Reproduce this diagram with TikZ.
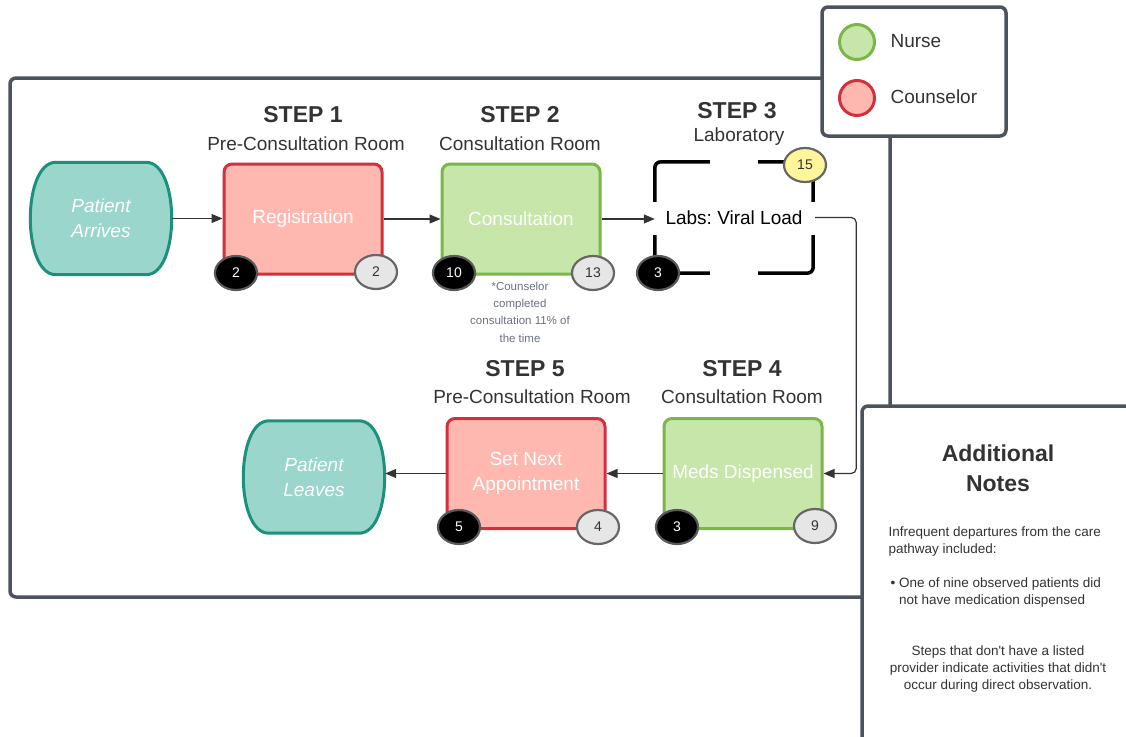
\documentclass[tikz,border=0pt]{standalone}
\usepackage{fontspec}
\setmainfont{Liberation Sans}
\usetikzlibrary{arrows.meta,shapes.geometric,calc}
\frenchspacing

\definecolor{framecol}{HTML}{4C535C}
\definecolor{termfill}{HTML}{9AD6CB}
\definecolor{termline}{HTML}{1B917C}
\definecolor{redfill}{HTML}{FFB8B0}
\definecolor{redline}{HTML}{D1303C}
\definecolor{greenfill}{HTML}{C6E7A9}
\definecolor{greenline}{HTML}{7AB648}
\definecolor{badgegray}{HTML}{E6E6E6}
\definecolor{badgeyellow}{HTML}{FFF59A}
\definecolor{textdark}{HTML}{333333}
\definecolor{notegray}{HTML}{6B7080}

\tikzset{
  frameline/.style={draw=framecol, line width=3.5pt, rounded corners=6pt},
  terminal/.style={minimum width=142pt, minimum height=112pt, inner sep=0pt,
    text=white, font=\fontsize{19}{25}\selectfont\itshape, align=center},
  termoutline/.style={draw=termline, fill=termfill, line width=3pt},
  stepbox/.style={draw, rounded corners=8pt, line width=3pt,
    minimum width=158pt, minimum height=110pt, inner sep=0pt,
    text=white, font=\fontsize{19}{25}\selectfont, align=center},
  nursebox/.style={stepbox, draw=greenline, fill=greenfill},
  counselbox/.style={stepbox, draw=redline, fill=redfill},
  badge/.style={ellipse, line width=2.2pt, minimum width=42pt,
    minimum height=34pt, inner sep=0pt, font=\fontsize{14}{14}\selectfont},
  countdark/.style={badge, fill=black, draw=black!65, text=white},
  countgray/.style={badge, fill=badgegray, draw=black!60, text=textdark},
  countyellow/.style={badge, fill=badgeyellow, draw=black!60, text=textdark},
  steptitle/.style={font=\bfseries\fontsize{23}{23}\selectfont, text=textdark},
  roomtitle/.style={font=\fontsize{19}{19}\selectfont, text=textdark},
  flow/.style={draw=textdark, line width=1.2pt, -{Triangle[length=11pt,width=9pt]}},
  bracket/.style={draw=black, line width=3.5pt, rounded corners=6pt},
  legenddot/.style={circle, line width=3pt, minimum size=35pt, inner sep=0pt},
  legendtext/.style={anchor=west, font=\fontsize{19}{19}\selectfont, text=textdark},
  notetext/.style={font=\fontsize{13.5}{17}\selectfont, text=textdark},
}

% start/end shape: flat top and bottom, bulging sides
\newcommand{\terminalshape}[1]{%
  \path[termoutline]
    ($(#1.north west)+(26,0)$) -- ($(#1.north east)+(-26,0)$)
    .. controls ($(#1.north east)+(8,0)$) and ($(#1.south east)+(8,0)$) ..
    ($(#1.south east)+(-26,0)$) -- ($(#1.south west)+(26,0)$)
    .. controls ($(#1.south west)+(-8,0)$) and ($(#1.north west)+(-8,0)$) ..
    cycle;}

\begin{document}
\begin{tikzpicture}[x=1pt,y=-1pt]
\useasboundingbox (0,0) rectangle (1126,736);

% outer frame of the care pathway
\draw[frameline] (10,78) rectangle (890,597);

% legend
\draw[frameline, fill=white] (822,7) rectangle (1006,136);
\node[legenddot, draw=greenline, fill=greenfill] (nursedot) at (857,42) {};
\node[legendtext] (nurselbl) at (887,41) {Nurse};
\node[legenddot, draw=redline, fill=redfill] (counseldot) at (857,98) {};
\node[legendtext] (counsellbl) at (887,97) {Counselor};

% top row
\path (101,218.5) node[terminal] (arrive) {};
\terminalshape{arrive}
\node[terminal] at (arrive) {Patient\\Arrives};
\node[counselbox] (reg) at (303,219) {Registration};
\node[nursebox] (cons) at (521,219) {Consultation};
\node[minimum width=158pt, minimum height=111pt, inner sep=0pt,
      font=\fontsize{19}{19}\selectfont] (labs) at (734,217.5) {Labs: Viral Load};

% corner brackets of the laboratory step
\draw[bracket] (labs.north west) ++(0,40) |- ++(55,-40);
\draw[bracket] (labs.north east) ++(-55,0) -| ++(55,40);
\draw[bracket] (labs.south west) ++(0,-38) |- ++(55,38);
\draw[bracket] (labs.south east) ++(-55,0) -| ++(55,-38);

% bottom row
\node[nursebox] (meds) at (743,473.5) {Meds Dispensed};
\node[counselbox] (setnext) at (526,473.5) {Set Next\\Appointment};
\path (314,477) node[terminal] (leaves) {};
\terminalshape{leaves}
\node[terminal] at (leaves) {Patient\\Leaves};

% step headings
\node[steptitle] (s1) at (303,115) {STEP 1};
\node[roomtitle] (r1) at (306,144) {Pre-Consultation Room};
\node[steptitle] (s2) at (520,115) {STEP 2};
\node[roomtitle] (r2) at (520,144) {Consultation Room};
\node[steptitle] (s3) at (737,111) {STEP 3};
\node[roomtitle] (r3) at (739,137) {Laboratory};
\node[steptitle] (s5) at (525,369) {STEP 5};
\node[roomtitle] (r5) at (532,397) {Pre-Consultation Room};
\node[steptitle] (s4) at (742,369) {STEP 4};
\node[roomtitle] (r4) at (742,397) {Consultation Room};

% footnote under the consultation step
\node[align=center, text=notegray, font=\fontsize{11.5}{17.3}\selectfont]
  (footnote) at (520,312) {*Counselor\\completed\\consultation 11\% of\\the time};

% connectors
\draw[flow] (arrive.east) -- (arrive.east -| reg.west);
\draw[flow] (reg.east) -- (cons.west);
\draw[flow] (cons.east) -- (cons.east -| labs.west);
\draw[flow, rounded corners=5pt] ([xshift=2pt]labs.east) -- ++(41,0) |- (meds.east);
\draw[flow] (meds.west) -- (setnext.east);
\draw[flow] (setnext.west) -- (setnext.west -| leaves.east);

% observation counts
\node[countdark] (b1) at (236,273) {2};
\node[countgray] (g1) at (376,272) {2};
\node[countdark] (b2) at (454,273) {10};
\node[countgray] (g2) at (593,273) {13};
\node[countdark] (b3) at (658,273) {3};
\node[countyellow] (y3) at (805,165) {15};
\node[countdark] (b4) at (677,527) {3};
\node[countgray] (g4) at (815,526) {9};
\node[countdark] (b5) at (459,527) {5};
\node[countgray] (g5) at (598,527) {4};

% additional notes panel
\draw[frameline, fill=white] (862,406) rectangle (1145,760);
\node[align=center, font=\bfseries\fontsize{23}{30}\selectfont, text=textdark]
  (notestitle) at (998,468) {Additional\\Notes};
\node[notetext, anchor=west, align=left] (note1) at (885,541.5)
  {Infrequent departures from the care\\pathway included:};
\node[notetext, anchor=west, align=left] (note2) at (887,592.5)
  {\textbullet\ One of nine observed patients did\\\phantom{\textbullet\ }not have medication dispensed};
\node[notetext, align=center] (note3) at (998,668.5)
  {Steps that don\textquotesingle t have a listed\\provider indicate activities that didn\textquotesingle t\\occur during direct observation.};
\end{tikzpicture}
\end{document}
